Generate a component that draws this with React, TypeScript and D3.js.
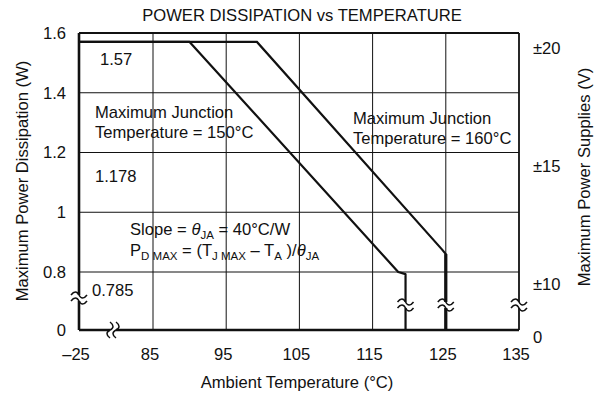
import React from "react";
import * as d3 from "d3";

const W = 604;
const H = 400;

// Axis ticks (x axis is broken between -25 and 85; y axis broken between 0 and 0.8)
const xTicks = [-25, 85, 95, 105, 115, 125, 135];
const xTickLabels = ["\u201325", "85", "95", "105", "115", "125", "135"];
const yTicks = [0, 0.8, 1, 1.2, 1.4, 1.6];
const yTickLabels = ["0", "0.8", "1", "1.2", "1.4", "1.6"];
const yGrid = [0.8, 1, 1.2, 1.4];
const xGrid = [85, 95, 105, 115, 125];
const rightTicks = [0, 10, 15, 20];
const rightTickLabels = ["0", "\u00b110", "\u00b115", "\u00b120"];

// Derating curves: Tj max = 150°C and 160°C
const curve150T = [-25, 90, 118.5, 119.5, 119.5];
const curve150P = [1.57, 1.57, 0.8, 0.77, 0];
const curve160T = [-25, 99.2, 124.5, 125, 125];
const curve160P = [1.57, 1.57, 0.875, 0.86, 0];

// Level annotations
const levelLabels = ["1.57", "1.178", "0.785"];
const levelValues = [1.57, 1.178, 0.785];

const FONT = "'Liberation Sans', Arial, Helvetica, sans-serif";
const FS = 16.6;

export default function App() {
  const x = d3.scaleLinear().domain([-25, 85, 135]).range([79, 153, 519]);
  const y = d3.scaleLinear().domain([0, 0.8, 1.6]).range([330, 272, 33]);
  const yR = d3.scaleLinear().domain([0, 10, 20]).range([337, 284, 48]);

  const line = d3
    .line<[number, number]>()
    .x((d) => x(d[0]))
    .y((d) => y(d[1]));

  const c150 = curve150T.map((t, i) => [t, curve150P[i]] as [number, number]);
  const c160 = curve160T.map((t, i) => [t, curve160P[i]] as [number, number]);

  const x0 = x(-25);
  const x1 = x(135);
  const y0 = y(0);
  const y1 = y(1.6);

  // break mark: two stacked tildes with white gap, centered at (cx, cy)
  const tilde = (dy: number) =>
    `M-8,${dy} C-5,${dy - 4} -2,${dy - 4} 0,${dy} S5,${dy + 4} 8,${dy}`;
  const Break = ({ cx, cy, rot = 0 }: { cx: number; cy: number; rot?: number }) => (
    <g transform={`translate(${cx},${cy}) rotate(${rot})`}>
      <rect x={-6} y={-3} width={12} height={6} fill="#fff" />
      <path d={tilde(-3)} fill="none" stroke="#111" strokeWidth={1.5} />
      <path d={tilde(3)} fill="none" stroke="#111" strokeWidth={1.5} />
    </g>
  );

  const breakY = y(0.8) + 33;
  const levelDx = [21, 16, 13];

  return (
    <svg
      width={W}
      height={H}
      style={{ position: "absolute", left: 0, top: 0, background: "#fff" }}
      fontFamily={FONT}
    >
      <rect width={W} height={H} fill="#fff" />
      {/* Title */}
      <text x={302} y={21} textAnchor="middle" fontSize={FS} fill="#111">
        POWER DISSIPATION vs TEMPERATURE
      </text>

      {/* grid */}
      {yGrid.map((v) => (
        <line key={"gy" + v} x1={x0} x2={x1} y1={y(v)} y2={y(v)} stroke="#111" strokeWidth={1} />
      ))}
      {xGrid.map((v) => (
        <line key={"gx" + v} x1={x(v)} x2={x(v)} y1={y1} y2={y0} stroke="#111" strokeWidth={1} />
      ))}

      {/* frame */}
      <line x1={x0} x2={x1} y1={y1} y2={y1} stroke="#111" strokeWidth={1.8} />
      <line x1={x1} x2={x1} y1={y1} y2={y0} stroke="#111" strokeWidth={1.8} />
      <line x1={x0} x2={x0} y1={y1} y2={y0} stroke="#111" strokeWidth={2.6} />
      <line x1={x0} x2={x1} y1={y0} y2={y0} stroke="#111" strokeWidth={2.6} />

      {/* curves */}
      <path d={line(c160) || ""} fill="none" stroke="#111" strokeWidth={2.2} />
      <line
        x1={x(125)}
        x2={x(125)}
        y1={y(0.86)}
        y2={y0}
        stroke="#111"
        strokeWidth={3.2}
      />
      <path d={line(c150) || ""} fill="none" stroke="#111" strokeWidth={2.2} strokeLinejoin="round" />

      {/* break marks */}
      <Break cx={x0} cy={y(0.8) + 26} />
      <Break cx={x(119.5)} cy={breakY} />
      <Break cx={x(125)} cy={breakY} />
      <Break cx={x1} cy={breakY} />
      <Break cx={x(-25) + 34} cy={y0} rot={90} />

      {/* left ticks */}
      {yTicks.map((v, i) => (
        <text
          key={"yt" + v}
          x={66}
          y={y(v)}
          dy="0.35em"
          textAnchor="end"
          fontSize={FS}
          fill="#111"
        >
          {yTickLabels[i]}
        </text>
      ))}
      {/* bottom ticks */}
      {xTicks.map((v, i) => (
        <text
          key={"xt" + v}
          x={x(v) - 3}
          y={y0 + 30}
          textAnchor="middle"
          fontSize={FS}
          fill="#111"
        >
          {xTickLabels[i]}
        </text>
      ))}
      {/* right ticks */}
      {rightTicks.map((v, i) => (
        <text
          key={"rt" + v}
          x={x1 + 14}
          y={yR(v)}
          dy="0.35em"
          textAnchor="start"
          fontSize={FS}
          fill="#111"
        >
          {rightTickLabels[i]}
        </text>
      ))}

      {/* axis titles */}
      <text
        transform={`translate(22,181) rotate(-90)`}
        textAnchor="middle"
        dy="0.35em"
        fontSize={FS}
        fill="#111"
      >
        Maximum Power Dissipation (W)
      </text>
      <text
        transform={`translate(584,177) rotate(-90)`}
        textAnchor="middle"
        dy="0.35em"
        fontSize={FS}
        fill="#111"
      >
        Maximum Power Supplies (V)
      </text>
      <text x={297} y={388} textAnchor="middle" fontSize={FS} fill="#111">
        Ambient Temperature (°C)
      </text>

      {/* level labels */}
      {levelLabels.map((s, i) => (
        <text
          key={s}
          x={x0 + levelDx[i]}
          y={y(levelValues[i]) + 23}
          fontSize={FS}
          fill="#111"
        >
          {s}
        </text>
      ))}

      {/* annotations */}
      <text x={95} y={118} fontSize={FS} fill="#111">
        Maximum Junction
      </text>
      <text x={95} y={138} fontSize={FS} fill="#111">
        Temperature = 150°C
      </text>
      <text x={353} y={124} fontSize={FS} fill="#111">
        Maximum Junction
      </text>
      <text x={353} y={144} fontSize={FS} fill="#111">
        Temperature = 160°C
      </text>

      <text x={130} y={235} fontSize={FS} fill="#111">
        Slope ={" "}
        <tspan fontStyle="italic">θ</tspan>
        <tspan fontSize={11.5} dy={4}>
          JA
        </tspan>
        <tspan dy={-4}> = 40°C/W</tspan>
      </text>
      <text x={130} y={256} fontSize={FS} fill="#111">
        P
        <tspan fontSize={11.5} dy={4}>
          D MAX
        </tspan>
        <tspan dy={-4}> = (T</tspan>
        <tspan fontSize={11.5} dy={4}>
          J MAX
        </tspan>
        <tspan dy={-4}> – T</tspan>
        <tspan fontSize={11.5} dy={4}>
          A
        </tspan>
        <tspan dy={-4}> )/</tspan>
        <tspan fontStyle="italic">θ</tspan>
        <tspan fontSize={11.5} dy={4}>
          JA
        </tspan>
      </text>
    </svg>
  );
}
